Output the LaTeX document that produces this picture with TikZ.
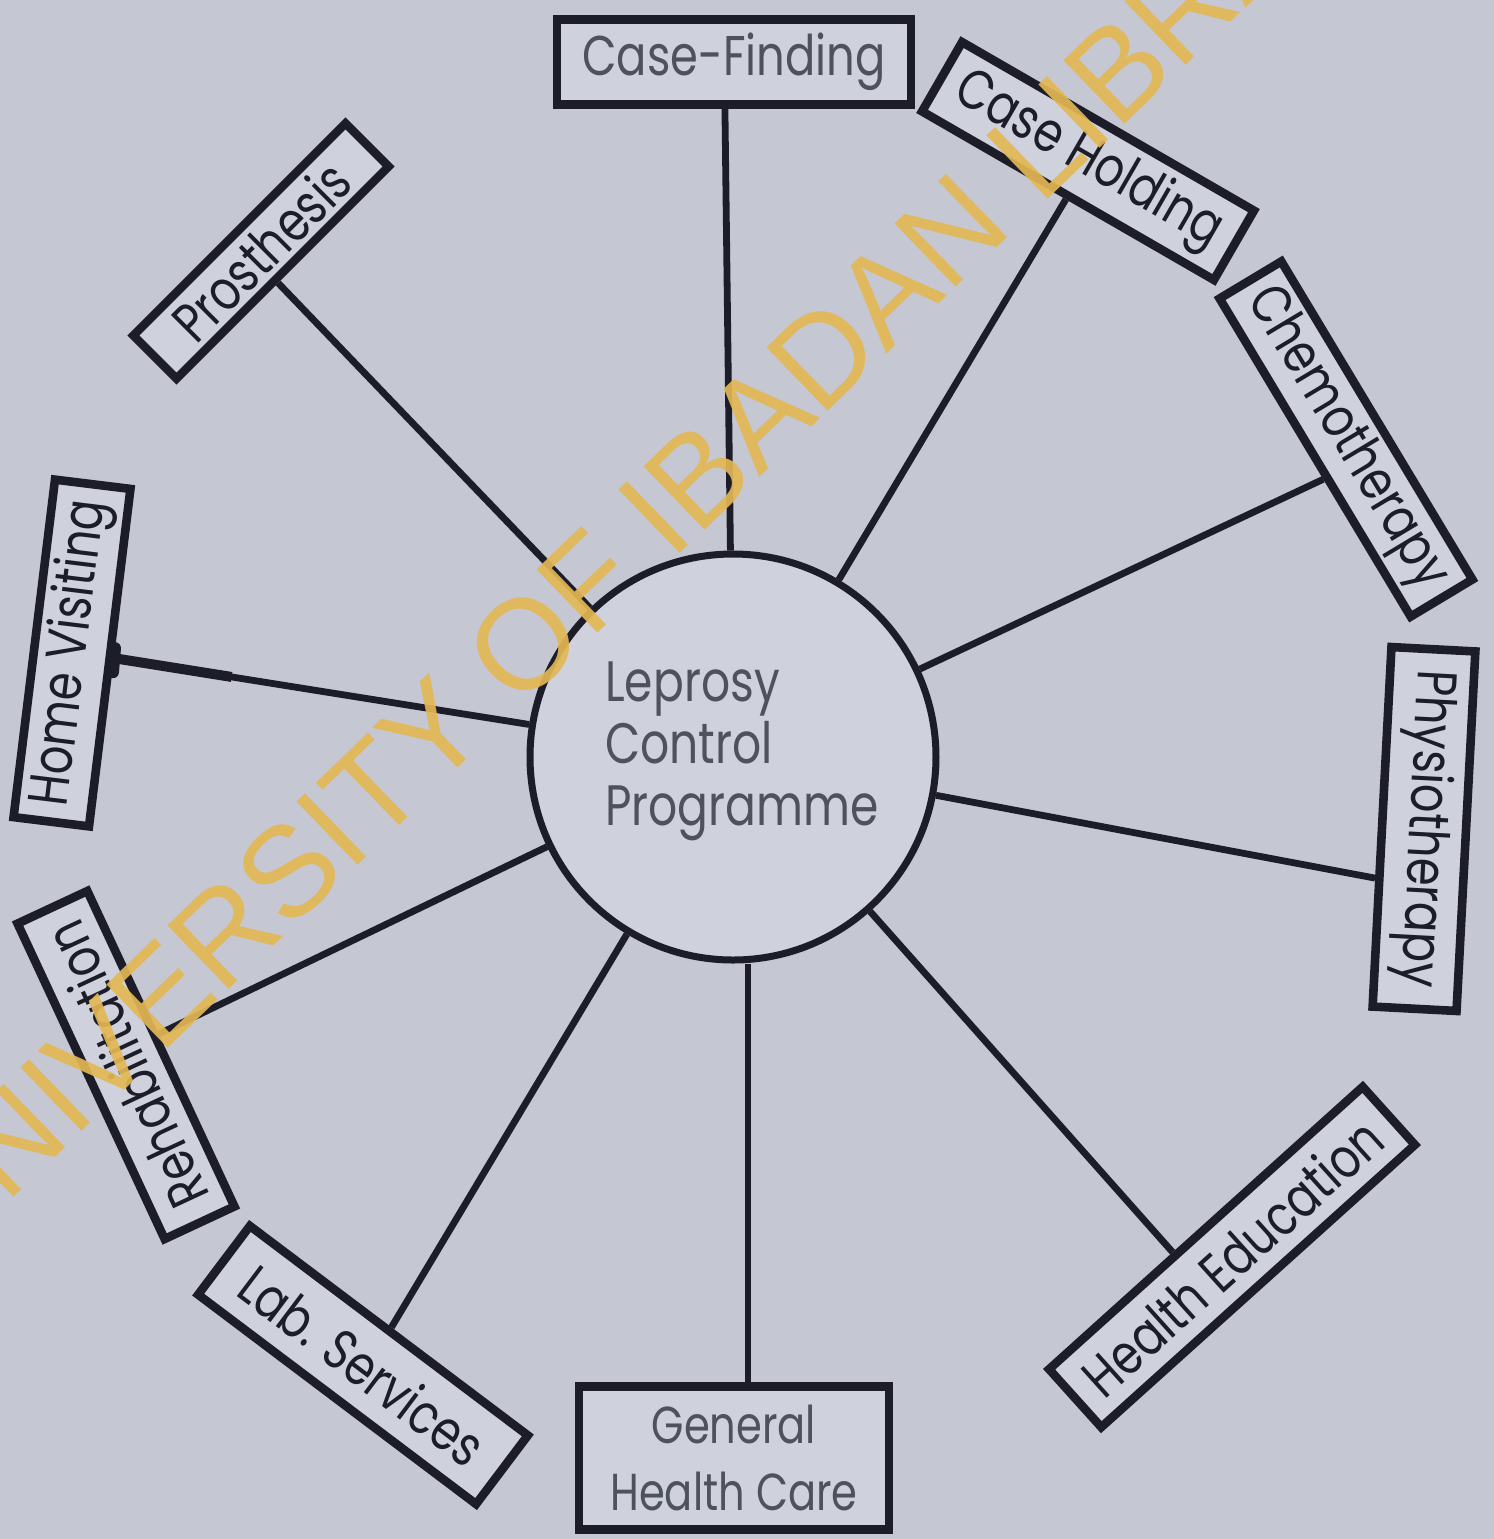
\documentclass[tikz,border=0pt]{standalone}
\usepackage{fontspec}
\setmainfont{Liberation Sans}
\newfontfamily\lettering[FakeStretch=0.8]{Poppins}
\usetikzlibrary{calc}
\definecolor{bg}{HTML}{C5C8D2}
\definecolor{boxfill}{HTML}{CFD2DC}
\definecolor{ink}{HTML}{1C1D29}
\definecolor{grayink}{HTML}{4E525E}
\definecolor{wm}{HTML}{E3B754}
\begin{document}
\begin{tikzpicture}[x=0.5pt,y=-0.5pt,
  labelbox/.style={draw=ink, line width=4.3pt, fill=boxfill, inner sep=0pt, text=ink,
    font=\lettering\fontsize{28}{30}\selectfont, align=center},
  spoke/.style={draw=ink, line width=3.4pt},
  hubnode/.style={circle, draw=ink, line width=3.5pt, fill=boxfill, minimum size=203pt, inner sep=0pt},
  hubtext/.style={text=grayink, font=\lettering\fontsize{28.5}{31}\selectfont, align=left, inner sep=0pt},
  watermark/.style={text=wm, opacity=0.92, font=\fontsize{64}{64}\selectfont, inner sep=0pt}]
\useasboundingbox (0,0) rectangle (1494,1539);
\fill[bg] (0,0) rectangle (1494,1539);

% hub
\node[hubnode] (hub) at (733,757) {};
\node[hubtext] (hubt) at (742,751) {Leprosy\\Control\\Programme};

% boxes
\node[labelbox, minimum width=177pt, minimum height=42.5pt, text=grayink] (cf) at (734,62) {Case-Finding};
\node[labelbox, rotate=-30, minimum width=168.5pt, minimum height=40pt] (ch) at (1088,161) {Case Holding};
\node[labelbox, rotate=-59, minimum width=185.5pt, minimum height=36pt] (chemo) at (1346,439) {Chemotherapy};
\node[labelbox, rotate=-93, minimum width=180pt, minimum height=42pt] (phys) at (1424,829) {Physiotherapy};
\node[labelbox, rotate=42, minimum width=211pt, minimum height=39pt] (he) at (1232,1257) {Health Education};
\node[labelbox, minimum width=155pt, minimum height=71.5pt, text=grayink,
  font=\lettering\fontsize{26}{33.5}\selectfont] (ghc) at (734,1458) {General\\Health Care};
\node[labelbox, rotate=-37, minimum width=174pt, minimum height=43pt] (lab) at (363,1365) {Lab. Services};
\node[labelbox, rotate=115, minimum width=174pt, minimum height=38.5pt] (rehab) at (126,1065) {Rehabilitation};
\node[labelbox, rotate=83, minimum width=170pt, minimum height=38pt] (hv) at (72,653) {Home Visiting};
\node[labelbox, rotate=45, minimum width=150pt, minimum height=30.5pt] (pr) at (261,251) {Prosthesis};

% spoke end points
\coordinate (acf) at ($(cf.south west)!0.475!(cf.south east)$);
\coordinate (achemo) at ($(chemo.south west)!0.56!(chemo.south east)$);
\coordinate (aphys) at ($(phys.south west)!0.64!(phys.south east)$);
\coordinate (ahe) at ($(he.north west)!0.405!(he.north east)$);
\coordinate (aghc) at ($(ghc.north west)!0.544!(ghc.north east)$);
\coordinate (arehab) at ($(rehab.south west)!0.54!(rehab.south east)$);
\coordinate (apr) at ($(pr.south west)!0.466!(pr.south east)$);
\coordinate (hvthick) at ($(hv.south)!0.19!(hub.center)$);

% spokes
\draw[spoke] (hub) -- (acf);
\draw[spoke] (hub) -- (ch.south);
\draw[spoke] (hub) -- (achemo);
\draw[spoke] (hub) -- (aphys);
\draw[spoke] (hub) -- (ahe);
\draw[spoke] (aghc |- hub.south) -- (aghc);
\draw[spoke] (hub) -- (lab.north);
\draw[spoke] (hub) -- (arehab);
\draw[spoke] (hub) -- (hv.south);
\draw[spoke] (hub) -- (apr);
\draw[ink, line width=5pt] (hv.south) -- (hvthick);
\draw[ink, line width=6pt, line cap=round] ($(hv.south)+(1,-10)$) -- ($(hv.south)+(-1,14)$);

% watermark
\begin{scope}
\clip (0,0) rectangle (1494,1539);
\node[watermark, rotate=44] (wmark) at (656,516) {UNIVERSITY OF IBADAN LIBRARY};
\end{scope}
\end{tikzpicture}
\end{document}
